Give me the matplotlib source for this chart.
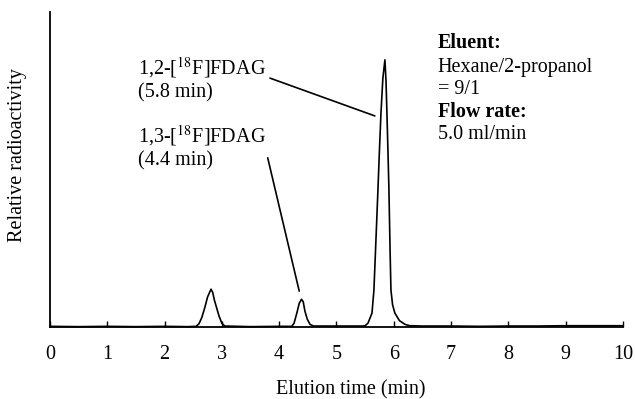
import matplotlib
matplotlib.use("Agg")
import matplotlib.pyplot as plt

plt.rcParams["font.family"] = ["Liberation Serif", "DejaVu Serif"]
plt.rcParams["mathtext.fontset"] = "stix"

# chromatogram trace (time in min, relative signal)
elution_time = [0.0, 0.5, 1.0, 1.5, 2.0, 2.4, 2.55,
                2.6, 2.65, 2.7, 2.75, 2.81, 2.84, 2.87, 2.91, 2.95, 3.0, 3.05,
                3.5, 4.0, 4.22,
                4.26, 4.31, 4.35, 4.39, 4.42, 4.45, 4.49, 4.54, 4.6,
                5.0, 5.45,
                5.5, 5.55, 5.62, 5.654, 5.69, 5.724, 5.75, 5.777, 5.81, 5.846,
                5.865, 5.881, 5.90, 5.916, 5.935, 5.951, 5.98, 6.02, 6.1,
                6.2, 6.28,
                6.5, 7.0, 7.5, 8.0, 8.5, 9.0, 9.5, 10.0]
radioactivity = [0.002, 0.001, 0.002, 0.001, 0.002, 0.001, 0.002,
                 0.01, 0.03, 0.06, 0.095, 0.12, 0.11, 0.085, 0.06, 0.035, 0.012, 0.003,
                 0.001, 0.002, 0.002,
                 0.012, 0.045, 0.075, 0.088, 0.08, 0.05, 0.025, 0.008, 0.003,
                 0.003, 0.003,
                 0.004, 0.012, 0.044, 0.117, 0.28, 0.435, 0.56, 0.679, 0.79, 0.848,
                 0.78, 0.679, 0.55, 0.435, 0.25, 0.117, 0.07, 0.044, 0.02,
                 0.008, 0.004,
                 0.003, 0.003, 0.002, 0.003, 0.003, 0.004, 0.004, 0.004]

xticks = list(range(0, 11))

fig = plt.figure(figsize=(6.35, 3.99), dpi=100)
ax = fig.add_axes([0.0787, 0.1805, 0.9023, 0.7895])

ax.plot(elution_time, radioactivity, color="black", lw=1.2, clip_on=False)

ax.set_xlim(0, 10)
ax.set_ylim(0, 1)
ax.spines["top"].set_visible(False)
ax.spines["right"].set_visible(False)
ax.spines["left"].set_linewidth(1.3)
ax.spines["bottom"].set_linewidth(1.3)
ax.set_yticks([])
ax.set_xticks(xticks)
ax.set_xticklabels([str(t) for t in xticks])
ax.tick_params(axis="x", direction="in", length=4, width=1, pad=13, labelsize=14.5)

fs = 14.5
# peak labels
ax.text(1.54, 0.803, "1,2-[$^{18}$F]FDAG", fontsize=fs, va="baseline")
ax.text(1.54, 0.730, "(5.8 min)", fontsize=fs, va="baseline")
ax.text(1.54, 0.587, "1,3-[$^{18}$F]FDAG", fontsize=fs, va="baseline")
ax.text(1.54, 0.514, "(4.4 min)", fontsize=fs, va="baseline")
ax.annotate("", xy=(5.67, 0.67), xytext=(3.84, 0.79),
            arrowprops=dict(arrowstyle="-", color="black", lw=1.2, shrinkA=0, shrinkB=0))
ax.annotate("", xy=(4.35, 0.114), xytext=(3.80, 0.537),
            arrowprops=dict(arrowstyle="-", color="black", lw=1.2, shrinkA=0, shrinkB=0))

# conditions
ax.text(6.77, 0.886, "Eluent:", fontsize=fs, fontweight="bold", va="baseline")
ax.text(6.77, 0.810, "Hexane/2-propanol", fontsize=fs, va="baseline")
ax.text(6.77, 0.740, "= 9/1", fontsize=fs, va="baseline")
ax.text(6.77, 0.667, "Flow rate:", fontsize=fs, fontweight="bold", va="baseline")
ax.text(6.77, 0.597, "5.0 ml/min", fontsize=fs, va="baseline")

fig.text(0.0283, 0.612, "Relative radioactivity", rotation=90, fontsize=fs,
         ha="center", va="center")
fig.text(0.553, 0.0226, "Elution time (min)", fontsize=fs, ha="center", va="center")

fig.savefig("out.png", dpi=100)
